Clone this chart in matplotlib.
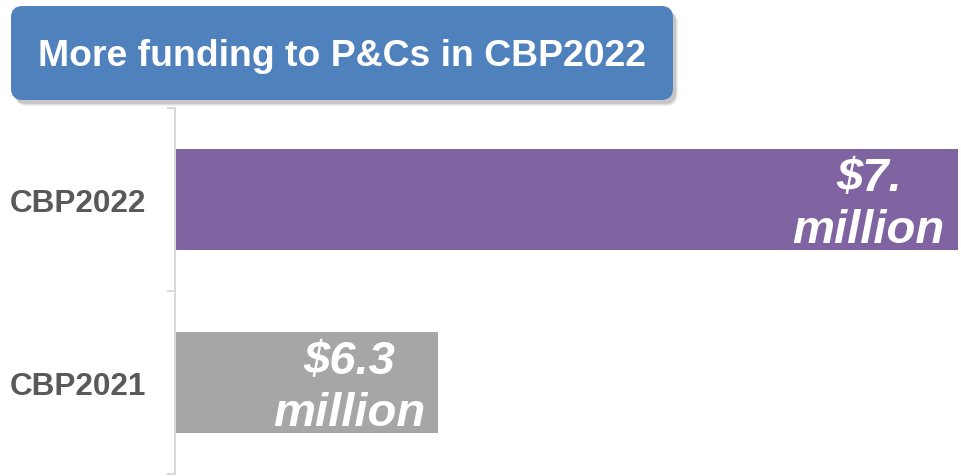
import matplotlib.pyplot as plt
from matplotlib.patches import FancyBboxPatch

categories = ['CBP2021', 'CBP2022']
values = [6.3, 7.0]
bar_labels = ['$6.3\nmillion', '$7.\nmillion']
bar_colors = ['#A6A6A6', '#8064A2']
title = 'More funding to P&Cs in CBP2022'

plt.rcParams['font.family'] = ['Liberation Sans', 'DejaVu Sans']

W, H = 961, 477
fig = plt.figure(figsize=(W / 100, H / 100), dpi=100)
ax = fig.add_axes([175 / W, 2 / H, 783 / W, 366 / H])

ypos = list(range(len(categories)))
ax.barh(ypos, values, height=0.548, color=bar_colors)
ax.set_xlim(5.945, 7.0)
ax.set_ylim(-0.5, len(categories) - 0.5)

for y, v, lab in zip(ypos, values, bar_labels):
    ax.annotate(lab, xy=(v, y), xytext=(-9.5, -3.5), textcoords='offset points',
                ha='right', va='center', multialignment='center',
                color='white', fontsize=34, fontweight='bold', style='italic',
                linespacing=1.22, annotation_clip=False)

ax.set_yticks(ypos)
ax.set_yticklabels(categories, fontsize=22.7, fontweight='bold', color='#595959')
ax.tick_params(axis='y', which='major', length=0, pad=21)
ax.set_yticks([-0.5, 0.5, 1.5], minor=True)
ax.tick_params(axis='y', which='minor', length=6, width=1.5, color='#D9D9D9')
ax.set_xticks([])
for s in ['top', 'right', 'bottom']:
    ax.spines[s].set_visible(False)
ax.spines['left'].set_color('#D9D9D9')
ax.spines['left'].set_linewidth(1.5)

# title box with soft shadow
x0, y0, x1, y1 = 11 / W, 1 - 101 / H, 673 / W, 1 - 7 / H
for i, a in enumerate([0.06, 0.08, 0.1]):
    d = 3 - i
    sh = FancyBboxPatch((x0 + (2 + d) / W, y0 - (3 + d) / H), x1 - x0, y1 - y0,
                        boxstyle='round,pad=0,rounding_size=0.012',
                        transform=fig.transFigure, facecolor='black', alpha=a,
                        edgecolor='none', mutation_aspect=W / H)
    fig.patches.append(sh)
box = FancyBboxPatch((x0, y0), x1 - x0, y1 - y0,
                     boxstyle='round,pad=0,rounding_size=0.012',
                     transform=fig.transFigure, facecolor='#4F81BD',
                     edgecolor='none', mutation_aspect=W / H)
fig.patches.append(box)
fig.text(342 / W, 1 - 56 / H, title, ha='center', va='center',
         color='white', fontsize=26.9, fontweight='bold')

fig.savefig('out.png', dpi=100)
